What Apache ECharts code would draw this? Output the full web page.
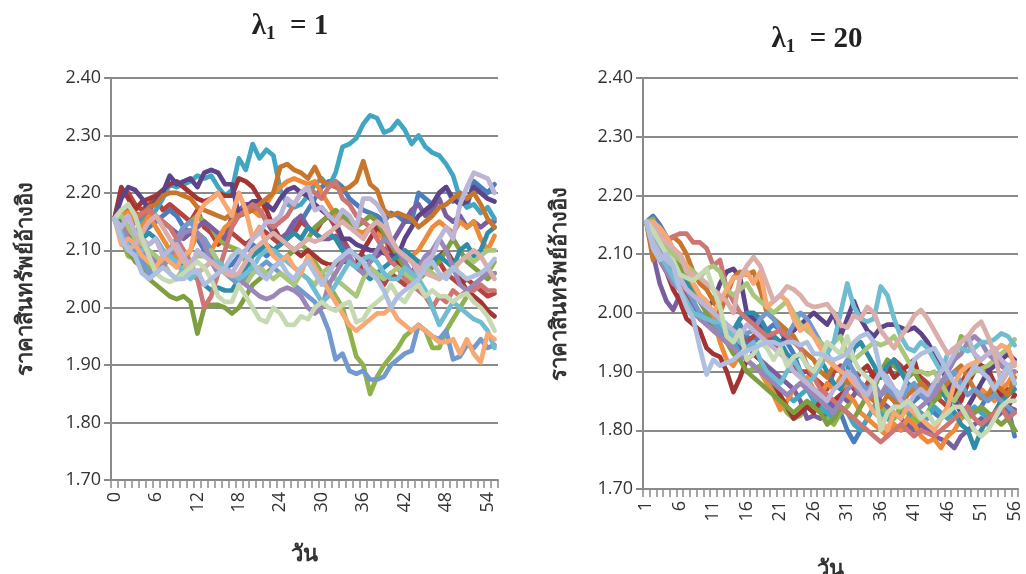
<!DOCTYPE html>
<html><head><meta charset="utf-8">
<script src="https://cdn.jsdelivr.net/npm/echarts@6/dist/echarts.min.js"></script>
<style>html,body{margin:0;padding:0;background:#fff}#c{width:1026px;height:574px}</style>
</head><body><div id="c"></div>
<script>
// ---------- categories ----------
const daysLeft = ['0','1','2','3','4','5','6','7','8','9','10','11','12','13','14','15','16','17','18','19','20','21','22','23','24','25','26','27','28','29','30','31','32','33','34','35','36','37','38','39','40','41','42','43','44','45','46','47','48','49','50','51','52','53','54','55'];
const daysRight = ['1','2','3','4','5','6','7','8','9','10','11','12','13','14','15','16','17','18','19','20','21','22','23','24','25','26','27','28','29','30','31','32','33','34','35','36','37','38','39','40','41','42','43','44','45','46','47','48','49','50','51','52','53','54','55','56'];
const yTicks = [1.70, 1.80, 1.90, 2.00, 2.10, 2.20, 2.30, 2.40];
const titleLeft = 'λ₁ = 1', titleRight = 'λ₁ = 20';
const yName = 'ราคาสินทรัพย์อ้างอิง', xName = 'วัน';

// ---------- lambda1 = 1 series ----------
const L_blue = [2.155,2.14,2.13,2.12,2.13,2.14,2.15,2.16,2.17,2.16,2.14,2.13,2.12,2.1,2.09,2.08,2.07,2.075,2.09,2.1,2.11,2.1,2.09,2.1,2.11,2.12,2.14,2.15,2.17,2.19,2.21,2.22,2.22,2.21,2.19,2.18,2.17,2.165,2.16,2.15,2.165,2.16,2.15,2.15,2.2,2.19,2.18,2.2,2.21,2.185,2.2,2.175,2.22,2.21,2.2,2.215];
const L_red = [2.155,2.2,2.2,2.18,2.17,2.18,2.19,2.17,2.18,2.17,2.16,2.15,2.17,2.14,2.13,2.11,2.12,2.13,2.12,2.11,2.12,2.14,2.13,2.12,2.11,2.12,2.13,2.15,2.14,2.13,2.15,2.16,2.14,2.12,2.1,2.09,2.06,2.07,2.05,2.04,2.06,2.05,2.04,2.06,2.08,2.07,2.09,2.08,2.06,2.05,2.04,2.05,2.04,2.03,2.02,2.025];
const L_green = [2.155,2.12,2.09,2.085,2.08,2.07,2.06,2.08,2.1,2.12,2.14,2.15,2.16,2.15,2.14,2.12,2.11,2.105,2.1,2.08,2.07,2.06,2.06,2.07,2.08,2.09,2.1,2.11,2.1,2.08,2.06,2.04,2.02,2.0,1.96,1.915,1.9,1.85,1.88,1.9,1.915,1.93,1.95,1.96,1.97,1.96,1.93,1.93,1.96,1.98,2.0,2.02,2.04,2.05,2.06,2.08];
const L_purple = [2.155,2.15,2.14,2.15,2.16,2.17,2.16,2.15,2.14,2.13,2.12,2.13,2.14,2.15,2.14,2.13,2.12,2.16,2.17,2.18,2.18,2.17,2.15,2.13,2.12,2.13,2.15,2.16,2.14,2.13,2.12,2.12,2.125,2.11,2.1,2.09,2.09,2.08,2.09,2.1,2.11,2.13,2.15,2.17,2.18,2.16,2.17,2.19,2.16,2.15,2.16,2.14,2.15,2.14,2.15,2.15];
const L_aqua = [2.155,2.15,2.14,2.13,2.15,2.16,2.17,2.19,2.215,2.21,2.215,2.22,2.23,2.225,2.23,2.21,2.195,2.205,2.26,2.24,2.285,2.26,2.275,2.265,2.205,2.18,2.175,2.18,2.195,2.215,2.225,2.21,2.235,2.28,2.285,2.295,2.32,2.335,2.33,2.305,2.31,2.325,2.31,2.285,2.3,2.28,2.27,2.265,2.25,2.23,2.19,2.175,2.18,2.165,2.175,2.155];
const L_orange = [2.155,2.16,2.17,2.15,2.14,2.16,2.14,2.12,2.1,2.09,2.08,2.1,2.13,2.12,2.1,2.12,2.14,2.15,2.16,2.165,2.17,2.16,2.18,2.2,2.21,2.22,2.225,2.22,2.215,2.22,2.2,2.18,2.16,2.15,2.14,2.135,2.13,2.14,2.13,2.12,2.1,2.09,2.08,2.09,2.1,2.12,2.14,2.15,2.14,2.13,2.15,2.14,2.15,2.12,2.1,2.125];
const L_darkRed = [2.155,2.21,2.19,2.17,2.185,2.19,2.195,2.205,2.215,2.22,2.21,2.2,2.19,2.185,2.19,2.2,2.195,2.195,2.225,2.22,2.21,2.19,2.17,2.14,2.12,2.11,2.1,2.09,2.1,2.09,2.08,2.075,2.075,2.08,2.08,2.075,2.1,2.12,2.14,2.13,2.1,2.08,2.06,2.05,2.06,2.07,2.08,2.09,2.1,2.08,2.05,2.03,2.02,2.01,1.995,1.985];
const L_darkGreen = [2.155,2.13,2.1,2.08,2.07,2.05,2.04,2.03,2.02,2.015,2.02,2.01,1.955,2.0,2.005,2.005,2.0,1.99,2.0,2.02,2.04,2.05,2.06,2.07,2.08,2.09,2.1,2.11,2.12,2.14,2.15,2.16,2.17,2.16,2.15,2.14,2.15,2.16,2.15,2.13,2.11,2.09,2.07,2.05,2.05,2.06,2.07,2.08,2.1,2.12,2.1,2.08,2.07,2.06,2.05,2.06];
const L_darkPurple = [2.155,2.19,2.21,2.205,2.19,2.17,2.185,2.2,2.23,2.215,2.22,2.225,2.21,2.235,2.24,2.235,2.215,2.215,2.16,2.175,2.185,2.185,2.18,2.17,2.19,2.205,2.21,2.2,2.195,2.18,2.17,2.16,2.15,2.12,2.12,2.11,2.105,2.1,2.1,2.095,2.09,2.09,2.12,2.14,2.16,2.17,2.18,2.2,2.21,2.19,2.18,2.185,2.21,2.2,2.19,2.185];
const L_teal = [2.155,2.15,2.14,2.13,2.12,2.13,2.12,2.1,2.09,2.08,2.07,2.06,2.05,2.04,2.03,2.035,2.03,2.03,2.05,2.07,2.09,2.1,2.11,2.1,2.11,2.12,2.13,2.12,2.14,2.13,2.12,2.13,2.12,2.1,2.08,2.07,2.06,2.05,2.06,2.07,2.08,2.09,2.1,2.09,2.08,2.07,2.08,2.09,2.08,2.07,2.1,2.11,2.09,2.1,2.13,2.14];
const L_darkOrange = [2.155,2.17,2.175,2.165,2.16,2.175,2.18,2.195,2.2,2.2,2.195,2.19,2.175,2.17,2.165,2.16,2.155,2.165,2.16,2.165,2.17,2.18,2.19,2.2,2.245,2.25,2.24,2.235,2.225,2.245,2.22,2.215,2.21,2.205,2.21,2.22,2.255,2.215,2.205,2.17,2.16,2.165,2.16,2.155,2.14,2.15,2.16,2.175,2.18,2.19,2.2,2.19,2.2,2.18,2.155,2.14];
const L_lightBlue = [2.155,2.14,2.12,2.1,2.08,2.06,2.07,2.08,2.1,2.12,2.14,2.15,2.13,2.12,2.1,2.08,2.06,2.05,2.04,2.05,2.06,2.07,2.08,2.07,2.06,2.05,2.04,2.03,2.02,2.01,1.99,1.96,1.91,1.92,1.89,1.885,1.89,1.875,1.875,1.88,1.9,1.91,1.92,1.925,1.97,1.96,1.95,1.945,1.96,1.91,1.915,1.935,1.93,1.945,1.93,1.935];
const L_salmon = [2.155,2.14,2.13,2.15,2.165,2.17,2.16,2.15,2.14,2.12,2.1,2.08,2.05,2.0,2.02,2.06,2.1,2.14,2.16,2.17,2.18,2.17,2.15,2.14,2.15,2.16,2.18,2.2,2.21,2.2,2.19,2.21,2.22,2.19,2.18,2.16,2.15,2.14,2.12,2.1,2.08,2.07,2.05,2.04,2.03,2.02,2.0,2.02,2.01,2.03,2.02,2.03,2.03,2.04,2.03,2.03];
const L_lightGreen = [2.155,2.16,2.14,2.12,2.11,2.1,2.09,2.08,2.06,2.05,2.07,2.08,2.09,2.09,2.1,2.08,2.07,2.06,2.05,2.04,2.06,2.07,2.06,2.05,2.06,2.05,2.04,2.06,2.05,2.04,2.06,2.07,2.05,2.04,2.03,2.02,2.05,2.07,2.06,2.05,2.06,2.07,2.06,2.05,2.06,2.07,2.06,2.05,2.06,2.07,2.08,2.09,2.08,2.09,2.1,2.1];
const L_lightPurple = [2.155,2.14,2.12,2.11,2.1,2.09,2.08,2.07,2.09,2.11,2.13,2.135,2.13,2.11,2.08,2.06,2.07,2.06,2.05,2.04,2.03,2.02,2.015,2.02,2.03,2.035,2.03,2.02,2.0,1.99,2.0,2.04,2.06,2.08,2.09,2.07,2.06,2.08,2.1,2.12,2.11,2.1,2.08,2.06,2.07,2.09,2.1,2.12,2.1,2.07,2.04,2.03,2.04,2.05,2.06,2.06];
const L_lightAqua = [2.155,2.13,2.1,2.09,2.1,2.11,2.12,2.1,2.09,2.08,2.06,2.05,2.06,2.07,2.08,2.08,2.07,2.06,2.05,2.06,2.07,2.09,2.1,2.1,2.09,2.08,2.07,2.06,2.05,2.03,2.01,2.02,2.04,2.06,2.08,2.07,2.085,2.09,2.08,2.06,2.05,2.05,2.07,2.06,2.05,2.03,2.0,1.97,1.99,2.01,2.0,1.99,1.98,1.975,1.96,1.93];
const L_lightOrange = [2.155,2.11,2.12,2.11,2.09,2.08,2.07,2.09,2.08,2.07,2.09,2.1,2.16,2.18,2.19,2.2,2.18,2.16,2.2,2.17,2.12,2.14,2.11,2.09,2.08,2.09,2.07,2.06,2.09,2.07,2.05,2.03,2.01,1.99,1.97,1.96,1.97,1.98,1.99,1.99,2.0,1.98,1.97,1.96,1.97,1.96,1.95,1.94,1.94,1.945,1.92,1.945,1.92,1.905,1.955,1.945];
const L_lilac = [2.155,2.14,2.16,2.13,2.12,2.11,2.12,2.09,2.1,2.11,2.09,2.07,2.1,2.09,2.08,2.07,2.065,2.06,2.08,2.1,2.12,2.13,2.15,2.15,2.16,2.19,2.18,2.2,2.21,2.17,2.175,2.16,2.15,2.17,2.16,2.14,2.19,2.19,2.18,2.16,2.12,2.1,2.09,2.08,2.06,2.08,2.09,2.12,2.14,2.12,2.18,2.21,2.235,2.23,2.225,2.2];
const L_pink = [2.155,2.12,2.1,2.11,2.13,2.15,2.16,2.14,2.12,2.1,2.08,2.07,2.06,2.07,2.08,2.07,2.06,2.055,2.06,2.08,2.1,2.11,2.12,2.13,2.12,2.11,2.1,2.11,2.12,2.115,2.12,2.13,2.14,2.15,2.14,2.13,2.12,2.14,2.15,2.14,2.12,2.1,2.09,2.08,2.07,2.06,2.055,2.05,2.06,2.065,2.08,2.09,2.1,2.09,2.07,2.05];
const L_paleGreen = [2.155,2.17,2.18,2.16,2.12,2.09,2.06,2.05,2.045,2.05,2.06,2.07,2.08,2.07,2.05,2.02,2.01,2.01,2.04,2.02,2.0,1.98,1.975,2.0,1.99,1.97,1.97,1.985,1.98,2.0,2.01,2.0,1.995,2.005,2.01,1.975,1.98,2.0,2.01,2.02,2.04,2.02,2.01,2.03,2.04,2.02,2.03,2.02,2.02,2.01,2.02,2.025,2.01,2.0,1.985,1.96];
const L_paleBlue = [2.155,2.12,2.1,2.09,2.06,2.05,2.06,2.07,2.06,2.05,2.05,2.06,2.065,2.04,2.05,2.06,2.07,2.09,2.1,2.09,2.08,2.06,2.05,2.07,2.08,2.06,2.05,2.07,2.08,2.06,2.04,2.06,2.08,2.09,2.1,2.09,2.08,2.06,2.05,2.03,2.0,2.02,2.03,2.04,2.05,2.07,2.08,2.06,2.05,2.07,2.06,2.05,2.055,2.06,2.07,2.085];

// ---------- lambda1 = 20 series ----------
const R_blue = [2.155,2.165,2.15,2.13,2.1,2.08,2.06,2.04,2.02,2.01,2.0,1.98,1.96,1.97,1.98,1.96,1.95,1.96,1.97,1.98,1.97,1.95,1.93,1.9,1.88,1.87,1.86,1.85,1.84,1.83,1.8,1.78,1.8,1.82,1.84,1.86,1.87,1.85,1.83,1.84,1.85,1.86,1.85,1.83,1.82,1.84,1.86,1.84,1.82,1.83,1.84,1.86,1.87,1.86,1.84,1.79];
const R_red = [2.155,2.13,2.11,2.09,2.06,2.04,2.03,2.01,1.99,1.98,1.97,1.96,1.95,1.97,1.96,1.95,1.96,1.97,1.96,1.95,1.94,1.92,1.91,1.9,1.9,1.89,1.88,1.87,1.9,1.91,1.89,1.87,1.86,1.88,1.9,1.89,1.9,1.92,1.91,1.89,1.9,1.89,1.88,1.86,1.85,1.84,1.86,1.88,1.9,1.91,1.9,1.89,1.88,1.86,1.87,1.86];
const R_green = [2.155,2.16,2.13,2.11,2.1,2.08,2.07,2.05,2.03,2.01,2.0,1.98,1.96,1.94,1.92,1.9,1.905,1.91,1.9,1.87,1.85,1.83,1.82,1.825,1.84,1.85,1.83,1.82,1.81,1.83,1.84,1.86,1.88,1.87,1.85,1.84,1.83,1.82,1.84,1.83,1.82,1.81,1.83,1.85,1.87,1.9,1.92,1.96,1.95,1.93,1.91,1.89,1.87,1.84,1.82,1.8];
const R_purple = [2.155,2.1,2.05,2.02,2.005,2.03,2.02,2.01,2.0,1.99,1.98,1.97,1.96,1.95,1.94,1.95,1.93,1.92,1.91,1.9,1.89,1.88,1.87,1.85,1.82,1.825,1.82,1.83,1.85,1.86,1.85,1.86,1.88,1.87,1.86,1.85,1.84,1.83,1.82,1.81,1.8,1.81,1.8,1.79,1.785,1.78,1.77,1.79,1.8,1.81,1.82,1.81,1.82,1.83,1.84,1.835];
const R_aqua = [2.155,2.14,2.12,2.1,2.08,2.07,2.06,2.04,2.02,2.0,1.99,1.97,1.96,1.95,1.93,1.92,1.91,1.9,1.89,1.88,1.87,1.86,1.85,1.86,1.87,1.85,1.84,1.83,1.82,1.84,1.83,1.81,1.8,1.82,1.84,1.83,1.82,1.81,1.8,1.82,1.84,1.83,1.82,1.84,1.83,1.82,1.83,1.82,1.83,1.84,1.83,1.82,1.83,1.85,1.86,1.88];
const R_orange = [2.155,2.1,2.11,2.09,2.07,2.05,2.04,2.03,2.02,2.0,1.99,1.95,1.92,1.91,1.93,1.92,1.91,1.9,1.88,1.86,1.835,1.85,1.87,1.88,1.89,1.87,1.86,1.88,1.87,1.89,1.86,1.85,1.83,1.82,1.81,1.8,1.79,1.81,1.8,1.82,1.81,1.79,1.78,1.785,1.77,1.79,1.8,1.82,1.84,1.86,1.87,1.86,1.85,1.87,1.88,1.9];
const R_darkRed = [2.155,2.12,2.09,2.07,2.04,2.02,1.99,1.98,1.97,1.94,1.93,1.925,1.9,1.865,1.89,1.92,1.93,1.92,1.9,1.88,1.86,1.84,1.82,1.83,1.84,1.83,1.85,1.86,1.85,1.86,1.87,1.88,1.9,1.91,1.89,1.9,1.91,1.89,1.9,1.91,1.92,1.88,1.86,1.87,1.88,1.89,1.87,1.85,1.88,1.9,1.91,1.905,1.88,1.86,1.84,1.86];
const R_darkGreen = [2.155,2.15,2.13,2.11,2.09,2.08,2.06,2.04,2.02,2.0,1.98,1.96,1.95,1.93,1.92,1.9,1.89,1.88,1.87,1.86,1.85,1.84,1.83,1.84,1.85,1.84,1.83,1.81,1.82,1.84,1.83,1.82,1.84,1.86,1.87,1.9,1.92,1.91,1.9,1.89,1.9,1.88,1.86,1.85,1.86,1.87,1.85,1.83,1.82,1.83,1.84,1.83,1.82,1.81,1.82,1.8];
const R_darkPurple = [2.155,2.13,2.1,2.09,2.07,2.06,2.04,2.03,2.02,2.01,2.02,2.05,2.07,2.075,2.06,2.0,1.99,1.98,1.97,1.96,1.95,1.96,1.97,1.98,1.99,2.0,1.99,1.98,2.0,1.96,1.99,2.02,1.99,1.97,1.96,1.975,1.98,1.98,1.975,1.97,1.975,1.965,1.95,1.93,1.91,1.88,1.85,1.83,1.84,1.86,1.88,1.9,1.91,1.92,1.93,1.92];
const R_teal = [2.155,2.14,2.12,2.1,2.08,2.06,2.05,2.03,2.02,2.01,2.0,1.99,1.98,1.97,1.99,2.0,2.0,1.99,1.97,1.96,1.95,1.93,1.92,1.93,1.91,1.9,1.92,1.9,1.88,1.87,1.9,1.94,1.95,1.93,1.91,1.89,1.91,1.92,1.9,1.88,1.87,1.86,1.87,1.88,1.87,1.85,1.83,1.81,1.8,1.77,1.8,1.82,1.83,1.85,1.86,1.87];
const R_darkOrange = [2.155,2.09,2.1,2.12,2.13,2.12,2.1,2.07,2.05,2.04,2.02,2.0,2.03,2.06,2.07,2.065,2.07,2.04,2.0,1.99,1.98,1.97,1.96,1.94,1.93,1.92,1.9,1.89,1.91,1.9,1.88,1.89,1.87,1.86,1.85,1.84,1.86,1.85,1.84,1.86,1.87,1.88,1.87,1.86,1.87,1.88,1.9,1.91,1.89,1.87,1.855,1.86,1.88,1.87,1.86,1.89];
const R_lightBlue = [2.155,2.13,2.11,2.09,2.07,2.06,2.04,2.02,2.0,1.99,1.985,1.97,1.97,1.96,1.97,1.965,1.97,1.99,2.0,1.99,1.97,1.96,1.98,2.0,1.99,1.97,1.95,1.93,1.91,1.9,1.92,1.9,1.88,1.87,1.88,1.86,1.87,1.86,1.85,1.87,1.88,1.86,1.85,1.87,1.88,1.89,1.9,1.88,1.86,1.87,1.86,1.85,1.86,1.85,1.84,1.83];
const R_salmon = [2.155,2.14,2.13,2.125,2.13,2.135,2.135,2.12,2.12,2.11,2.08,2.09,2.04,2.02,2.0,1.99,1.98,1.97,1.96,1.965,1.97,1.96,1.95,1.94,1.91,1.89,1.87,1.86,1.85,1.84,1.83,1.82,1.81,1.8,1.79,1.78,1.79,1.8,1.81,1.8,1.79,1.8,1.795,1.79,1.8,1.81,1.82,1.83,1.84,1.82,1.81,1.82,1.83,1.84,1.82,1.83];
const R_lightGreen = [2.155,2.15,2.13,2.11,2.1,2.09,2.08,2.07,2.06,2.075,2.08,2.07,2.04,2.03,2.04,2.05,2.03,2.02,2.01,2.0,2.01,2.02,2.0,1.98,1.97,1.96,1.95,1.94,1.95,1.96,1.93,1.92,1.93,1.94,1.95,1.945,1.95,1.96,1.94,1.92,1.9,1.9,1.895,1.9,1.88,1.86,1.85,1.87,1.89,1.9,1.905,1.91,1.92,1.93,1.94,1.955];
const R_lightPurple = [2.155,2.12,2.09,2.07,2.05,2.04,2.02,2.0,1.99,1.98,1.97,1.96,1.95,1.94,1.93,1.92,1.91,1.9,1.89,1.88,1.87,1.86,1.87,1.88,1.87,1.86,1.85,1.84,1.83,1.85,1.87,1.88,1.86,1.85,1.87,1.86,1.88,1.87,1.86,1.84,1.83,1.84,1.85,1.86,1.88,1.9,1.92,1.93,1.95,1.96,1.95,1.93,1.92,1.91,1.9,1.9];
const R_lightAqua = [2.155,2.13,2.1,2.08,2.06,2.04,2.02,2.0,1.995,1.99,1.985,1.985,1.97,1.96,1.95,1.94,1.95,1.92,1.9,1.89,1.88,1.9,1.92,1.9,1.88,1.89,1.91,1.93,1.95,2.0,2.05,2.01,1.99,1.985,1.99,2.045,2.03,1.99,1.96,1.94,1.935,1.95,1.94,1.92,1.9,1.93,1.94,1.94,1.935,1.94,1.95,1.95,1.955,1.965,1.96,1.945];
const R_lightOrange = [2.155,2.155,2.145,2.13,2.11,2.1,2.08,2.05,2.03,2.02,2.0,2.02,2.04,2.06,2.06,2.07,2.05,2.07,2.01,2.02,2.03,2.02,1.99,1.97,1.98,1.96,1.94,1.92,1.91,1.9,1.895,1.88,1.87,1.85,1.83,1.82,1.8,1.83,1.82,1.84,1.83,1.82,1.81,1.8,1.82,1.84,1.88,1.9,1.91,1.915,1.92,1.93,1.935,1.945,1.94,1.91];
const R_lilac = [2.155,2.12,2.1,2.09,2.08,2.06,2.04,2.03,2.02,2.01,2.0,1.99,1.98,1.97,1.96,1.98,1.97,1.96,1.95,1.94,1.93,1.92,1.9,1.89,1.88,1.87,1.86,1.85,1.87,1.88,1.9,1.89,1.87,1.86,1.88,1.9,1.89,1.87,1.85,1.84,1.86,1.87,1.86,1.88,1.9,1.91,1.93,1.95,1.96,1.93,1.92,1.93,1.94,1.92,1.91,1.915];
const R_pink = [2.155,2.15,2.13,2.12,2.11,2.1,2.07,2.065,2.06,2.05,2.04,2.03,2.02,2.0,2.06,2.08,2.095,2.08,2.05,2.02,2.03,2.045,2.04,2.03,2.015,2.01,2.012,2.015,2.0,1.98,1.975,1.995,1.99,2.01,2.0,1.97,1.955,1.94,1.96,1.975,1.995,2.005,1.99,1.97,1.95,1.93,1.94,1.95,1.96,1.975,1.985,1.96,1.93,1.88,1.9,1.915];
const R_paleGreen = [2.155,2.14,2.12,2.1,2.09,2.065,2.06,2.055,2.065,2.075,2.04,2.01,1.96,1.95,1.97,1.92,1.93,1.95,1.94,1.92,1.94,1.91,1.925,1.93,1.91,1.9,1.92,1.95,1.94,1.93,1.96,1.92,1.9,1.89,1.88,1.8,1.83,1.84,1.84,1.85,1.84,1.82,1.83,1.81,1.82,1.83,1.84,1.84,1.82,1.8,1.79,1.8,1.82,1.84,1.85,1.85];
const R_paleBlue = [2.155,2.11,2.09,2.1,2.08,2.04,2.01,1.99,1.94,1.895,1.92,1.91,1.915,1.92,1.93,1.935,1.94,1.945,1.95,1.95,1.945,1.95,1.95,1.945,1.95,1.93,1.93,1.925,1.92,1.925,1.93,1.95,1.96,1.965,1.95,1.9,1.88,1.87,1.86,1.89,1.92,1.93,1.935,1.94,1.92,1.9,1.88,1.87,1.89,1.91,1.9,1.89,1.87,1.89,1.91,1.88];

// ---------- series colours (Excel-style palette) ----------
const seriesOrder = ['blue','red','green','purple','aqua','orange','darkRed','darkGreen','darkPurple','teal','darkOrange','lightBlue','salmon','lightGreen','lightPurple','lightAqua','lightOrange','lilac','pink','paleGreen','paleBlue'];
const colors = {blue:'#4a7dbf',red:'#b9423f',green:'#8fb24a',purple:'#7a5ea0',aqua:'#40a6c2',orange:'#ee8a38',darkRed:'#a23533',darkGreen:'#7e9e3f',darkPurple:'#5d4388',teal:'#2f8ea6',darkOrange:'#c8762c',lightBlue:'#7499cc',salmon:'#cd7673',lightGreen:'#aac57c',lightPurple:'#9a86b7',lightAqua:'#70bdd2',lightOrange:'#f7a873',lilac:'#bdb5d6',pink:'#d9aeab',paleGreen:'#c7d9b3',paleBlue:'#aebfdf'};
const leftData = {blue:L_blue,red:L_red,green:L_green,purple:L_purple,aqua:L_aqua,orange:L_orange,darkRed:L_darkRed,darkGreen:L_darkGreen,darkPurple:L_darkPurple,teal:L_teal,darkOrange:L_darkOrange,lightBlue:L_lightBlue,salmon:L_salmon,lightGreen:L_lightGreen,lightPurple:L_lightPurple,lightAqua:L_lightAqua,lightOrange:L_lightOrange,lilac:L_lilac,pink:L_pink,paleGreen:L_paleGreen,paleBlue:L_paleBlue};
const rightData = {blue:R_blue,red:R_red,green:R_green,purple:R_purple,aqua:R_aqua,orange:R_orange,darkRed:R_darkRed,darkGreen:R_darkGreen,darkPurple:R_darkPurple,teal:R_teal,darkOrange:R_darkOrange,lightBlue:R_lightBlue,salmon:R_salmon,lightGreen:R_lightGreen,lightPurple:R_lightPurple,lightAqua:R_lightAqua,lightOrange:R_lightOrange,lilac:R_lilac,pink:R_pink,paleGreen:R_paleGreen,paleBlue:R_paleBlue};

const chart = echarts.init(document.getElementById('c'), null, {renderer:'canvas'});
const labelFont = '"Open Sans","Noto Sans",sans-serif';
const thaiFont = '"Noto Sans","DejaVu Sans",sans-serif';
const gridColor = '#8a8a8a';

function mkSeries(dataMap, idx){
  return seriesOrder.map(k => ({
    name: k, type:'line', xAxisIndex: idx, yAxisIndex: idx,
    data: dataMap[k], showSymbol:false, symbol:'none', smooth:false,
    lineStyle:{width:4.7, color: colors[k], join:'round', cap:'round'}, itemStyle:{color: colors[k]},
    emphasis:{disabled:true}, silent:true, animation:false
  }));
}
function mkX(cats, idx, labelInterval, nameGap){
  return {
    type:'category', gridIndex: idx, data: cats, boundaryGap:true,
    axisLine:{show:true, lineStyle:{color:gridColor, width:2}},
    axisTick:{show:true, interval:0, length:8, lineStyle:{color:gridColor, width:1.5}},
    axisLabel:{interval:labelInterval, rotate:90, fontSize:18, color:'#333', fontFamily:labelFont, margin:12},
    name: xName, nameLocation:'middle', nameGap: nameGap,
    nameTextStyle:{fontSize:22, color:'#333', fontFamily:thaiFont, fontWeight:'bold'}
  };
}
function mkY(idx, nameGap){
  return {
    type:'value', gridIndex: idx, min: yTicks[0], max: yTicks[yTicks.length-1], interval:0.1,
    axisLine:{show:true, lineStyle:{color:gridColor, width:2}},
    axisTick:{show:true, length:7, lineStyle:{color:gridColor, width:2}},
    splitLine:{show:true, lineStyle:{color:gridColor, width:2}},
    axisLabel:{fontSize:18, color:'#333', fontFamily:labelFont, margin:10, formatter: v => v.toFixed(2)},
    name: yName, nameLocation:'middle', nameGap: nameGap, nameRotate:90,
    nameTextStyle:{fontSize:22, color:'#333', fontFamily:thaiFont, fontWeight:'bold'}
  };
}
const titleRich = {
  a:{fontSize:29, fontWeight:'bold', fontFamily:'"Liberation Serif","DejaVu Serif",serif', color:'#222'},
  s:{fontSize:19, fontWeight:'bold', fontFamily:'"Liberation Serif","DejaVu Serif",serif', color:'#222', padding:[16,0,0,0]}
};
function titleText(t){
  const parts = t.split('₁');
  return '{a|' + parts[0] + '}{s|1}{a|' + parts[1].replace(' = ','  = ') + '}';
}
chart.setOption({
  animation:false,
  backgroundColor:'#fff',
  title:[
    {text: titleText(titleLeft), left:285, top:4, textAlign:'center', textStyle:{rich:titleRich}},
    {text: titleText(titleRight), left:812, top:17, textAlign:'center', textStyle:{rich:titleRich}}
  ],
  grid:[
    {left:111, right:528, top:78, bottom:94, containLabel:false, outerBoundsMode:'none'},
    {left:643, right:8, top:78, bottom:85, containLabel:false, outerBoundsMode:'none'}
  ],
  xAxis:[ mkX(daysLeft,0,5,64), mkX(daysRight,1,4,70) ],
  yAxis:[ mkY(0,74), mkY(1,72) ],
  series: mkSeries(leftData,0).concat(mkSeries(rightData,1))
});
</script></body></html>
